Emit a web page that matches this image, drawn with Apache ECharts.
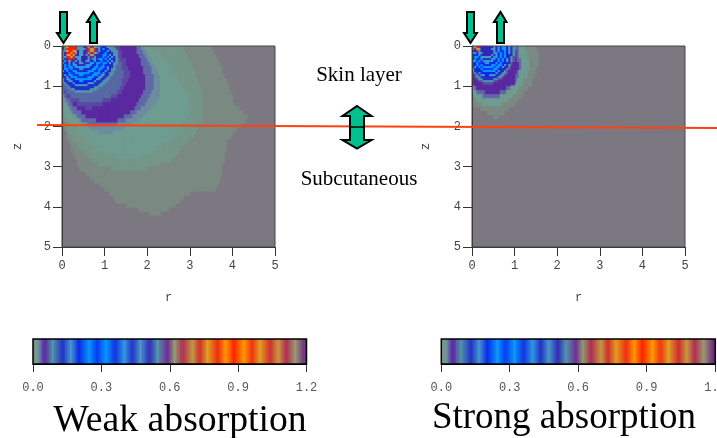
<!DOCTYPE html>
<html><head><meta charset="utf-8">
<style>html,body{margin:0;padding:0;background:#fff}#c{width:717px;height:438px}</style>
<script src="https://cdn.jsdelivr.net/npm/echarts@6/dist/echarts.min.js"></script></head>
<body><div id="c"></div>
<script>
// ---- axis tick labels
const rzTicks=[0,1,2,3,4,5];
const barTicks=[0.0,0.3,0.6,0.9,1.2];
// ---- colour scale, value in thousandths
const scaleValues=[0,4,10,16,24,32,40,50,65,85,130,165,200,245,280,320,360,400,435,470,510,545,590,620,655,700,730,765,810,845,880,925,960,995,1040,1075,1110,1150,1190,1200];
const scaleColors=['#7c7882','#7a8a82','#739688','#6f9c90','#6c8ca0','#6068a8','#5c40a8','#5a28a0','#5a50a4','#4f95a8','#2030c8','#4a98d0','#0828e8','#0898ff','#0838f0','#0898ff','#1030e0','#3098e0','#2030c8','#4a98c8','#3028b8','#4f95a8','#702a95','#8f9f70','#b02a50','#c09a40','#d02a30','#e0a020','#f02a10','#ff9900','#ff2000','#ff9900','#f03010','#e0a020','#d02a30','#c99a40','#b02a50','#9a9a70','#702a80','#702a80'];
// ---- weak absorption: zone edges in r per 0.1 of z (inner edges line up with the last rows)
const wHaloOut=[3.5,3.55,3.6,3.65,3.7,3.75,3.75,3.8,3.85,3.9,3.9,3.95,4.0,4.0,4.05,4.15,4.25,4.35,4.3,4.2,4.1,4.0,3.95,3.85,3.85,3.85,3.8,3.8,3.8,3.75,3.75,3.75,3.7,3.7,3.65,3.6,3.0,2.85,2.75,2.65,2.5,2.3];
const wHaloIn=[.03,.05,.1,.12,.15,.18,.2,.25,.3,.33,.35,.38,.55,.65,.75,.9,1.0,1.1,1.2,1.25,1.5,1.8,2.05];
const wGreenOut=[2.85,2.9,2.95,3.0,3.05,3.1,3.15,3.15,3.2,3.2,3.25,3.3,3.3,3.3,3.3,3.3,3.3,3.3,3.3,3.25,3.2,3.15,3.1,3.0,2.9,2.8,2.75,2.65,2.55,2.3,2.0];
const wGreenIn=[.02,.03,.05,.08,.12,.15,.2,.25,.33,.4,.48,.6,.7,.85,1.15];
const wTealOut=[2.1,2.2,2.3,2.4,2.5,2.55,2.6,2.7,2.75,2.8,2.85,2.9,2.95,2.95,3.0,3.0,3.0,3.0,2.9,2.85,2.8,2.7,2.65,2.5,2.35,2.25,2.1,1.8];
const wTealIn=[.03,.05,.07,.1,.18,.27,.35,.42,.5,.6,.7,.82,1.0,1.25];
const wGreyOut=[1.95,2.0,2.05,2.1,2.15,2.2,2.25,2.3,2.3,2.3,2.3,2.3,2.3,2.25,2.2,2.1,2.0,1.9,1.8,1.65,1.45,1.2];
const wGreyIn=[.05,.08,.13,.2,.3,.4,.5,.65,.85];
const wVioletOut=[1.85,1.9,1.95,2.0,2.05,2.1,2.1,2.15,2.15,2.15,2.15,2.1,2.05,2.0,1.95,1.85,1.75,1.65,1.5,1.3];
const wVioletIn=[.02,.05,.08,.15,.2,.27,.35,.45,.6];
const wPurpleOut=[1.75,1.75,1.8,1.85,1.85,1.9,1.9,1.95,1.95,1.95,1.95,1.9,1.85,1.8,1.75,1.7,1.6,1.45,1.3];
const wPurpleIn=[.03,.07,.12,.18,.25,.35,.45,.55,.8];
const wDeepOut=[1.35,1.38,1.42,1.48,1.5,1.55,1.58,1.58,1.55,1.5,1.45,1.4,1.3,1.15,.95,.7];
const wDeepIn=[.05,.12,.2,.35,.55];
const wRingOut=[1.25,1.28,1.3,1.35,1.4,1.42,1.45,1.45,1.42,1.4,1.35,1.28,1.15,.95];
const wRingIn=[.02,.1,.2,.4];
// ---- weak absorption: fringes, cells of 0.05 x 0.05 from the top-left corner
const wFringes=[
[280,545,845,880,880,810,655,545,470,470,510,590,620,655,655,620,545,400,280,200,130,85,85,85,65,65],
[280,545,810,880,880,810,655,545,470,470,545,590,655,700,700,655,590,470,360,245,200,130,85,85,85,65],
[320,545,765,880,880,765,620,510,470,470,510,590,655,700,700,655,590,470,360,280,200,165,130,85,85,85],
[320,510,730,880,845,730,620,510,470,470,510,590,620,655,655,620,545,435,360,280,245,200,130,130,85,85],
[320,510,700,845,810,700,590,510,470,470,510,545,590,620,620,590,510,435,360,320,245,200,165,130,85,85],
[320,470,655,810,765,655,545,470,470,510,510,510,545,590,590,545,510,435,360,320,280,245,200,165,130,85],
[320,435,590,730,655,590,510,470,470,510,510,510,470,435,400,400,360,320,320,280,245,200,165,130,130,85],
[280,400,510,620,590,510,470,435,470,510,510,470,470,435,435,400,360,360,320,280,280,245,200,165,130,85],
[245,280,435,545,510,470,435,435,470,470,435,435,435,400,400,360,320,320,280,245,245,200,165,130,85,85],
[200,245,280,320,360,400,400,435,435,435,435,400,400,400,360,360,320,280,280,245,200,200,130,130,85,65],
[200,245,280,320,320,360,400,400,400,400,400,400,400,360,360,320,320,280,245,245,200,165,130,130,85,65],
[200,245,245,280,320,360,360,360,400,400,360,360,360,360,320,320,280,245,245,200,200,165,130,85,85,65],
[165,200,245,280,280,320,320,360,360,360,360,360,320,320,320,280,280,245,200,200,165,130,130,85,65,50],
[130,200,200,245,280,280,320,320,320,320,320,320,320,280,280,245,245,245,200,165,130,130,85,85,65,50],
[130,165,200,245,245,280,280,280,320,320,280,280,280,280,245,245,245,200,165,165,130,130,85,65,50,50],
[130,130,165,200,245,245,245,280,280,280,280,280,245,245,245,200,200,165,165,130,130,85,65,65,50,50],
[85,130,165,165,200,200,245,245,245,245,245,245,245,245,200,200,165,165,130,130,85,85,65,50,50,50],
[85,130,130,165,165,200,200,200,245,245,200,200,200,200,200,165,130,130,130,85,85,65,50,50,50,50],
[65,85,130,130,130,165,200,200,200,200,200,200,165,165,165,130,130,130,85,85,65,50,50,50,50,50],
[50,65,85,130,130,130,165,165,165,165,165,165,130,130,130,130,130,85,85,65,50,50,50,50,50,50],
[50,50,65,85,130,130,130,130,130,130,130,130,130,130,130,85,85,65,65,50,50,50,50,50,50,50],
[0,0,50,65,85,85,130,130,130,130,130,130,130,85,85,85,65,65,50,50,50,50,50,50,50,50],
[0,0,0,50,65,65,85,85,85,85,85,85,85,85,65,65,65,50,50,50,50,50,50,50,50,50],
[0,0,0,0,50,65,65,65,65,65,65,65,65,65,50,50,50,50,50,50,50,50,50,50,50,50]];
// ---- strong absorption: zone edges
const sHaloOut=[1.5,1.53,1.55,1.55,1.55,1.52,1.5,1.45,1.42,1.38,1.3,1.22,1.15,1.05,.98,.85,.75,.6];
const sHaloIn=[.02,.07,.18,.35,.5];
const sTealOut=[1.25,1.28,1.3,1.33,1.35,1.33,1.3,1.28,1.22,1.18,1.1,1.05,.95,.85,.7];
const sTealIn=[.05,.12,.25];
const sVioletOut=[1.1,1.1,1.12,1.13,1.15,1.15,1.12,1.1,1.05,1.0,.9,.8,.65];
const sVioletIn=[.03,.1,.25];
const sPurpleOut=[1.02,1.03,1.05,1.06,1.08,1.08,1.05,1.02,.97,.92,.8,.65];
const sPurpleIn=[.03,.1,.28];
// ---- strong absorption: fringes
const sFringes=[
[320,620,810,655,510,510,510,510,510,510,470,435,400,360,320,245,200,165,130,85],
[320,590,765,620,510,510,510,510,510,470,470,435,400,360,320,245,200,165,130,85],
[280,510,655,545,510,510,510,510,510,510,470,435,400,360,280,245,200,165,130,85],
[245,400,510,470,470,510,510,510,510,510,470,400,360,320,280,245,200,165,130,85],
[200,280,360,400,435,510,510,510,510,470,435,400,360,320,280,245,200,130,130,85],
[200,245,320,360,400,470,470,470,470,435,400,400,360,320,280,245,200,130,85,65],
[200,245,280,360,400,435,435,435,435,400,400,360,320,280,245,200,165,130,85,65],
[165,245,280,320,360,400,400,400,400,400,360,360,320,280,245,200,165,130,85,65],
[130,200,245,280,360,360,400,400,360,360,360,320,280,245,200,200,130,130,65,50],
[130,200,245,280,320,360,360,360,360,320,320,280,245,245,200,165,130,85,65,50],
[130,165,200,245,280,320,320,320,320,320,280,245,245,200,165,130,130,85,50,50],
[85,130,200,200,245,280,280,280,280,280,245,245,200,200,130,130,85,65,50,50],
[85,130,130,200,200,245,245,245,245,245,245,200,165,130,130,85,65,50,50,50],
[65,85,130,165,200,200,200,200,200,200,200,165,130,130,85,85,65,50,50,50],
[50,65,85,130,165,165,200,200,165,165,165,130,130,85,85,65,50,50,50,50],
[50,65,85,85,130,130,130,130,130,130,130,130,85,85,65,50,50,50,50,50],
[50,50,65,85,85,130,130,130,130,130,85,85,65,65,50,50,50,50,50,50],
[50,50,50,65,65,85,85,85,85,85,65,65,50,50,50,50,50,50,50,50],
[50,50,50,50,50,65,65,65,65,65,50,50,50,50,50,50,50,50,50,50]];

const weakZones=[[4,wHaloOut,wHaloIn],[10,wGreenOut,wGreenIn],[16,wTealOut,wTealIn],[24,wGreyOut,wGreyIn],[32,wVioletOut,wVioletIn],[50,wPurpleOut,wPurpleIn],[62,wDeepOut,wDeepIn],[72,wRingOut,wRingIn]];
const strongZones=[[4,sHaloOut,sHaloIn],[16,sTealOut,sTealIn],[32,sVioletOut,sVioletIn],[50,sPurpleOut,sPurpleIn]];

// [r0,z0,r1,z1,value] cells
function zoneCells(zones){const out=[];
  for(let row=0;row<50;row++)for(let col=0;col<100;col++){
    const r=(col+.5)*.05;let v=0;
    zones.forEach(([val,o,i])=>{if(row<o.length){const k=row-(o.length-i.length);const lo=k>=0?i[k]:0;if(r>=lo&&r<o[row])v=val;}});
    if(v>0)out.push([col*.05,row*.1,(col+1)*.05,(row+1)*.1,v]);}
  return out;}
function matrixCells(m,minV){const out=[];m.forEach((row,y)=>row.forEach((v,x)=>{if(v>minV)out.push([x*.05,y*.05,(x+1)*.05,(y+1)*.05,v]);}));return out;}
function hex(c){return [1,3,5].map(i=>parseInt(c.substr(i,2),16));}
const palette=[];
for(let p=0;p<=1200;p+=2){let k=0;while(k<scaleValues.length-2&&scaleValues[k+1]<=p)k++;
  const t=Math.min(1,(p-scaleValues[k])/(scaleValues[k+1]-scaleValues[k]));const a=hex(scaleColors[k]),b=hex(scaleColors[k+1]);
  palette.push('rgb('+a.map((x,j)=>Math.round(x+(b[j]-x)*t)).join(',')+')');}
const barSegments=scaleValues.slice(0,-1).map((v,i)=>[v/1000,scaleValues[i+1]/1000,scaleColors[i],scaleColors[i+1]]);

const PW=213,PH=201,PT=46,LX=62,RX=472;
const mono='"Liberation Mono",monospace',serif='"Liberation Serif",serif';
const lab={fontFamily:mono,fontSize:12,color:'#444'};
const nameStyle={fontFamily:mono,fontSize:12,color:'#444'};
function valX(grid,name){return {type:'value',gridIndex:grid,min:rzTicks[0],max:rzTicks[5],interval:1,position:'bottom',z:5,
  axisLine:{onZero:false,lineStyle:{color:'#333'}},axisTick:{length:9,lineStyle:{color:'#333'}},splitLine:{show:false},
  axisLabel:Object.assign({margin:13},lab),name:name,nameLocation:'middle',nameGap:45,nameTextStyle:nameStyle};}
function valY(grid,name,gap){return {type:'value',gridIndex:grid,min:rzTicks[0],max:rzTicks[5],interval:1,inverse:true,position:'left',z:5,
  axisLine:{onZero:false,lineStyle:{color:'#333'}},axisTick:{length:9,lineStyle:{color:'#333'}},splitLine:{show:false},
  axisLabel:Object.assign({margin:11},lab),name:name,nameLocation:'middle',nameGap:gap,nameTextStyle:nameStyle};}
function barX(grid){return {type:'value',gridIndex:grid,min:barTicks[0],max:barTicks[4],interval:0.3,position:'bottom',z:5,
  axisLine:{onZero:false,lineStyle:{color:'#000'}},axisTick:{length:8,lineStyle:{color:'#333'}},splitLine:{show:false},
  axisLabel:Object.assign({margin:18,formatter:v=>v.toFixed(1)},lab,{color:'#555'})};}
function barY(grid){return {type:'value',gridIndex:grid,min:0,max:1,show:false};}
function cells(axis,data,z){return {type:'custom',xAxisIndex:axis,yAxisIndex:axis,data:data,z:z,silent:true,progressive:0,clip:true,
  encode:{x:[0,2],y:[1,3]},
  renderItem:(p,api)=>{const a=api.coord([api.value(0),api.value(1)]),b=api.coord([api.value(2),api.value(3)]);
    return {type:'rect',shape:{x:a[0],y:a[1],width:b[0]-a[0]+.7,height:b[1]-a[1]+.7},style:{fill:api.visual('color')}};}};}
function barSeries(axis){return {type:'custom',xAxisIndex:axis,yAxisIndex:axis,data:barSegments,silent:true,z:3,
  renderItem:(p,api)=>{const a=api.coord([api.value(0),1]),b=api.coord([api.value(1),0]);const d=barSegments[p.dataIndex];
    return {type:'rect',shape:{x:a[0],y:a[1],width:b[0]-a[0]+.5,height:b[1]-a[1]},
      style:{fill:new echarts.graphic.LinearGradient(0,0,1,0,[{offset:0,color:d[2]},{offset:1,color:d[3]}])}};},
  encode:{x:[0,1]}};}
function frame(x,y,w,h,c,lw){return {type:'rect',z:60,silent:true,shape:{x:x,y:y,width:w,height:h},style:{fill:'none',stroke:c,lineWidth:lw}};}
function arrow(pts){return {type:'polygon',z:80,silent:true,shape:{points:pts},style:{fill:'#00c090',stroke:'#000',lineWidth:2}};}
function txt(t,x,y,fs){return {type:'text',z:90,silent:true,x:x,y:y,style:{text:t,font:fs+'px '+serif,fill:'#000',textAlign:'center',textVerticalAlign:'middle'}};}
const downA=dx=>arrow([[60+dx,12],[67+dx,12],[67+dx,33],[70+dx,33],[63.5+dx,43],[57+dx,33],[60+dx,33]]);
const upA=dx=>arrow([[90+dx,43],[97+dx,43],[97+dx,22],[99.5+dx,22],[93.5+dx,12],[87+dx,22],[90+dx,22]]);
const G=(l,t,w,h,extra)=>Object.assign({left:l,top:t,width:w,height:h,outerBoundsMode:'none'},extra||{});
const BG={show:true,backgroundColor:'#7c7882',borderWidth:0};

const option={animation:false,
 grid:[G(LX,PT,PW,PH,BG),G(RX,PT,PW,PH,BG),G(33,339,273.5,25),G(441.3,339,273.7,25)],
 xAxis:[valX(0,'r'),valX(1,'r'),barX(2),barX(3)],
 yAxis:[valY(0,'z',38),valY(1,'z',40),barY(2),barY(3)],
 visualMap:{type:'continuous',show:false,min:0,max:1200,dimension:4,seriesIndex:[0,1,2,3],inRange:{color:palette}},
 series:[cells(0,zoneCells(weakZones),2),cells(0,matrixCells(wFringes,65),3),cells(1,zoneCells(strongZones),2),cells(1,matrixCells(sFringes,0),3),barSeries(2),barSeries(3)],
 graphic:{elements:[
  frame(LX,PT,PW,PH,'#444',1),frame(RX,PT,PW,PH,'#444',1),frame(33,339,273.5,25,'#000',1.5),frame(441.3,339,274,25,'#000',1.5),
  {type:'line',z:70,silent:true,shape:{x1:37,y1:125,x2:717,y2:128},style:{stroke:'#ff4010',lineWidth:2}},
  downA(0),upA(0),downA(407),upA(407),
  arrow([[357,106],[371.5,116],[364,116],[364,140],[371.5,140],[357,148.5],[342.5,140],[350,140],[350,116],[342.5,116]]),
  {type:'line',z:81,silent:true,shape:{x1:350,y1:127,x2:364,y2:127},style:{stroke:'#000',lineWidth:1.5}},
  txt('Skin layer',359,75,21),txt('Subcutaneous',359,179,21),txt('Weak absorption',180,421,37.7),txt('Strong absorption',564,418,37)
 ]}
};
const chart=echarts.init(document.getElementById('c'),null,{renderer:'canvas',width:717,height:438});
chart.setOption(option);
</script></body></html>
